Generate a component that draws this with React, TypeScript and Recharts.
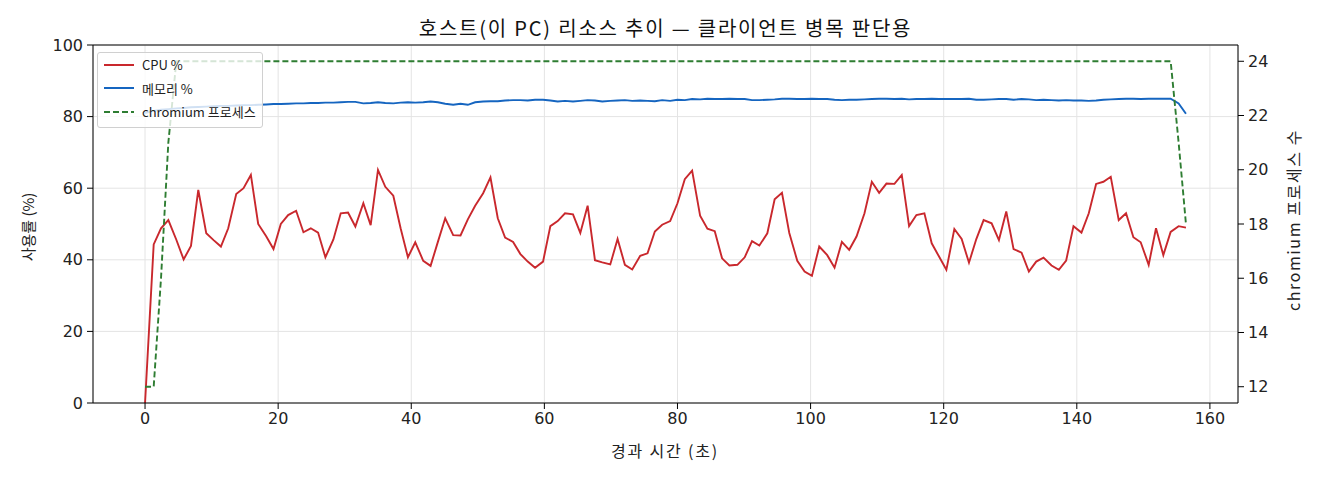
import { LineChart, Line, XAxis, YAxis, CartesianGrid, Legend, ReferenceLine } from 'recharts'

// elapsed seconds of each sample
const TIME = [
    0, 1.3, 2.4, 3.5, 4.7, 5.8, 6.9, 8.0, 9.2, 10.3, 11.4, 12.5, 13.7, 14.8, 15.9, 17.0, 18.2, 19.3, 20.4, 21.5,
    22.7, 23.8, 24.9, 26.0, 27.1, 28.3, 29.4, 30.5, 31.6, 32.8, 33.9, 35.0, 36.1, 37.3, 38.4, 39.5, 40.6, 41.8, 42.9, 44.0,
    45.1, 46.3, 47.4, 48.5, 49.6, 50.8, 51.9, 53.0, 54.1, 55.3, 56.4, 57.5, 58.6, 59.8, 60.9, 62.0, 63.1, 64.3, 65.4, 66.5,
    67.6, 68.7, 69.9, 71.0, 72.1, 73.2, 74.4, 75.5, 76.6, 77.7, 78.9, 80.0, 81.1, 82.2, 83.4, 84.5, 85.6, 86.7, 87.8, 89.0,
    90.1, 91.2, 92.3, 93.5, 94.6, 95.7, 96.8, 98.0, 99.1, 100.2, 101.3, 102.5, 103.6, 104.7, 105.8, 106.9, 108.1, 109.2, 110.3, 111.4,
    112.6, 113.7, 114.8, 115.9, 117.1, 118.2, 119.3, 120.4, 121.6, 122.7, 123.8, 124.9, 126.0, 127.2, 128.3, 129.4, 130.5, 131.7, 132.8, 133.9,
    135.0, 136.2, 137.3, 138.4, 139.5, 140.7, 141.8, 142.9, 144.0, 145.1, 146.3, 147.4, 148.5, 149.6, 150.8, 151.9, 153.0, 154.1, 155.3, 156.4
]

const CPU = [
    0, 44.3, 48.8, 51.1, 45.6, 40.1, 43.9, 59.5, 47.4, 45.5, 43.7, 48.8, 58.4, 60.0, 63.7, 50.0, 46.6, 43.0, 50.0, 52.5,
    53.7, 47.7, 48.8, 47.6, 40.7, 45.7, 53.0, 53.2, 49.3, 55.8, 49.7, 65.1, 60.4, 57.9, 48.8, 40.7, 44.9, 39.7, 38.3, 45.0,
    51.6, 46.9, 46.8, 51.3, 55.1, 58.6, 63.0, 51.6, 46.2, 45.0, 41.6, 39.5, 37.8, 39.5, 49.4, 50.8, 53.0, 52.7, 47.5, 55.1,
    39.9, 39.3, 38.7, 45.8, 38.6, 37.3, 41.1, 41.8, 47.9, 49.8, 50.8, 55.8, 62.5, 64.9, 52.3, 48.7, 48.0, 40.4, 38.4, 38.6,
    40.7, 45.2, 44.0, 47.4, 56.9, 58.7, 47.5, 39.7, 36.7, 35.5, 43.7, 41.3, 37.8, 45.0, 42.8, 46.5, 53.0, 61.8, 58.7, 61.3,
    61.2, 63.7, 49.4, 52.5, 53.0, 44.6, 40.9, 37.2, 48.6, 45.8, 39.2, 45.8, 51.1, 50.2, 45.5, 53.5, 43.0, 42.0, 36.7, 39.5,
    40.6, 38.4, 37.2, 39.8, 49.4, 47.6, 53.0, 61.2, 61.8, 63.2, 51.1, 53.0, 46.3, 44.9, 38.6, 48.8, 41.3, 47.8, 49.4, 49.0
]

const MEMORY = [
    81.0, 81.6, 81.9, 82.1, 82.3, 82.4, 82.6, 82.7, 82.8, 82.9, 83.0, 83.0, 83.1, 83.2, 83.2, 83.3, 83.4, 83.5, 83.5, 83.6,
    83.7, 83.7, 83.8, 83.8, 83.9, 83.9, 84.0, 84.1, 84.1, 83.7, 83.8, 84.0, 83.8, 83.7, 83.9, 84.0, 83.9, 84.0, 84.2, 84.0,
    83.6, 83.3, 83.6, 83.3, 84.0, 84.2, 84.3, 84.3, 84.5, 84.6, 84.6, 84.5, 84.7, 84.7, 84.5, 84.2, 84.4, 84.2, 84.4, 84.6,
    84.5, 84.2, 84.4, 84.5, 84.6, 84.4, 84.5, 84.4, 84.3, 84.6, 84.4, 84.7, 84.6, 84.9, 84.8, 85.0, 84.9, 84.9, 85.0, 84.9,
    84.9, 84.6, 84.6, 84.7, 84.8, 85.0, 85.0, 84.9, 84.9, 85.0, 84.9, 84.9, 84.7, 84.6, 84.7, 84.7, 84.8, 84.9, 85.0, 85.0,
    84.9, 85.0, 84.8, 84.9, 84.9, 85.0, 84.9, 84.9, 84.9, 84.9, 85.0, 84.7, 84.7, 84.8, 84.9, 84.9, 84.7, 84.9, 84.8, 84.6,
    84.7, 84.6, 84.5, 84.6, 84.5, 84.5, 84.4, 84.5, 84.7, 84.8, 84.9, 85.0, 85.0, 84.9, 85.0, 85.0, 85.0, 85.0, 83.7, 80.8
]

const CHROMIUM = [
    12, 12, 16, 21, 24, 24, 24, 24, 24, 24, 24, 24, 24, 24, 24, 24, 24, 24, 24, 24,
    24, 24, 24, 24, 24, 24, 24, 24, 24, 24, 24, 24, 24, 24, 24, 24, 24, 24, 24, 24,
    24, 24, 24, 24, 24, 24, 24, 24, 24, 24, 24, 24, 24, 24, 24, 24, 24, 24, 24, 24,
    24, 24, 24, 24, 24, 24, 24, 24, 24, 24, 24, 24, 24, 24, 24, 24, 24, 24, 24, 24,
    24, 24, 24, 24, 24, 24, 24, 24, 24, 24, 24, 24, 24, 24, 24, 24, 24, 24, 24, 24,
    24, 24, 24, 24, 24, 24, 24, 24, 24, 24, 24, 24, 24, 24, 24, 24, 24, 24, 24, 24,
    24, 24, 24, 24, 24, 24, 24, 24, 24, 24, 24, 24, 24, 24, 24, 24, 24, 24, 21, 18
]

const X_TICKS = [0, 20, 40, 60, 80, 100, 120, 140, 160]
const PCT_TICKS = [0, 20, 40, 60, 80, 100]
const PROC_TICKS = [12, 14, 16, 18, 20, 22, 24]

const SERIES = [
    { key: 'cpu', label: 'CPU %', color: '#c9282d', dash: undefined },
    { key: 'mem', label: '메모리 %', color: '#1565c0', dash: undefined },
    { key: 'procs', label: 'chromium 프로세스', color: '#2e7d32', dash: '6 3' }
]

const KO = '"Noto Sans CJK KR", "Noto Sans", sans-serif'
const NUM = '"DejaVu Sans", sans-serif'

const LegendBox = () => (
    <div style={{
        background: 'rgba(255,255,255,0.8)',
        border: '1px solid #d0d0d0',
        borderRadius: 3,
        padding: '0px 6px 3px 6px',
        fontFamily: KO,
        fontSize: 13,
        color: '#222'
    }}>
        {SERIES.map(s => (
            <div key={s.key} style={{ display: 'flex', alignItems: 'center', height: 23.5 }}>
                <svg width={30} height={6} style={{ marginRight: 8 }}>
                    <line x1={0} y1={3} x2={30} y2={3} stroke={s.color} strokeWidth={2} strokeDasharray={s.dash} />
                </svg>
                <span>{s.label}</span>
            </div>
        ))}
    </div>
)

const labelStyle = {
    position: 'absolute' as const,
    fontFamily: KO,
    fontSize: 16,
    color: '#222',
    whiteSpace: 'nowrap' as const
}

export default function App() {
    const data = TIME.map((t, i) => ({ t, cpu: CPU[i], mem: MEMORY[i], procs: CHROMIUM[i] }))
    const tickStyle = { fontSize: 16, fill: '#222', fontFamily: NUM }

    return (
        <div style={{ position: 'absolute', left: 0, top: 0, width: 1320, height: 480, background: '#fff' }}>
            <div style={{
                position: 'absolute', left: 93, width: 1145, top: 13, textAlign: 'center',
                fontFamily: KO, fontSize: 20, letterSpacing: 1.8, color: '#111'
            }}>
                호스트(이 PC) 리소스 추이 — 클라이언트 병목 판단용
            </div>
            <LineChart width={1320} height={480} data={data} margin={{ top: 45, right: 0, bottom: 0, left: 0 }}>
                <CartesianGrid yAxisId="left" stroke="#e4e4e4" strokeWidth={1} />
                <XAxis
                    dataKey="t"
                    type="number"
                    domain={[-7.82, 164.22]}
                    ticks={X_TICKS}
                    allowDataOverflow
                    height={77}
                    tick={tickStyle}
                    tickSize={6}
                    tickMargin={4}
                    stroke="#000"
                />
                <YAxis
                    yAxisId="left"
                    domain={[0, 100]}
                    ticks={PCT_TICKS}
                    width={93}
                    tick={tickStyle}
                    tickSize={6}
                    tickMargin={4}
                    stroke="#000"
                />
                <YAxis
                    yAxisId="right"
                    orientation="right"
                    domain={[11.4, 24.6]}
                    ticks={PROC_TICKS}
                    width={82}
                    tick={tickStyle}
                    tickSize={6}
                    tickMargin={4}
                    stroke="#000"
                />
                <ReferenceLine yAxisId="left" y={100} stroke="#000" />
                <Line yAxisId="left" dataKey="cpu" stroke="#c9282d" strokeWidth={1.9} dot={false} isAnimationActive={false} />
                <Line yAxisId="left" dataKey="mem" stroke="#1565c0" strokeWidth={1.9} dot={false} isAnimationActive={false} />
                <Line yAxisId="right" dataKey="procs" stroke="#2e7d32" strokeWidth={1.9} strokeDasharray="6 3" dot={false} isAnimationActive={false} />
                <Legend
                    layout="horizontal"
                    verticalAlign="middle"
                    align="center"
                    content={() => <LegendBox />}
                    wrapperStyle={{ left: 97, top: 52, width: 'auto', height: 'auto' }}
                />
            </LineChart>
            <div style={{ ...labelStyle, left: 665, top: 450, letterSpacing: 1.8, transform: 'translate(-50%, -50%)' }}>
                경과 시간 (초)
            </div>
            <div style={{ ...labelStyle, left: 27, top: 227, fontSize: 15, transform: 'translate(-50%, -50%) rotate(-90deg)' }}>
                사용률 (%)
            </div>
            <div style={{ ...labelStyle, left: 1293, top: 220, letterSpacing: 1.6, transform: 'translate(-50%, -50%) rotate(-90deg)' }}>
                chromium 프로세스 수
            </div>
        </div>
    )
}
